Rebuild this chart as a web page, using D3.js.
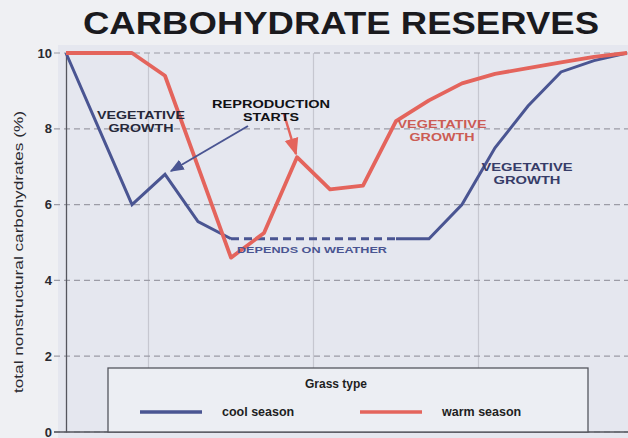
<!DOCTYPE html>
<html>
<head>
<style>
  body { margin: 0; background: #eeeff3; }
  text { font-family: "Liberation Sans", Arial, sans-serif; }
</style>
</head>
<body>
<script src="https://d3js.org/d3.v7.min.js"></script>
<script>

const width = 628;
const height = 438;

// x positions are just sample steps along the season (no labels in the picture)
const steps = d3.range(18);
const coolSeason = [10, 8.0, 6.0, 6.8, 5.55, 5.1, 5.1, 5.1, 5.1, 5.1, 5.1, 5.1, 6.0, 7.5, 8.6, 9.5, 9.8, 10];
const warmSeason = [10, 10, 10, 9.4, 7.0, 4.6, 5.25, 7.25, 6.4, 6.5, 8.2, 8.75, 9.2, 9.45, 9.6, 9.75, 9.9, 10];
// cool season is dashed between these steps
const dashedFrom = 5, dashedTo = 10;
const yTicks = [0, 2, 4, 6, 8, 10];
const xGrid = [2.5, 7.5, 12.5, 17.5];

const svg = d3.select('body')
              .append('svg')
              .attr('width', width)
              .attr('height', height);

svg.append('rect').attr('width', width).attr('height', height).attr('fill', '#eff0f3');

const x = d3.scaleLinear().domain([0, 17]).range([66, 627]);
const y = d3.scaleLinear().domain([0, 10]).range([432, 53]);

// plot background
svg.append('rect')
  .attr('x', 58).attr('y', 45)
  .attr('width', width - 58).attr('height', 400)
  .attr('fill', '#e5e7ef');

// vertical grid
svg.append('g')
  .selectAll('line')
  .data(xGrid)
  .enter()
  .append('line')
    .attr('x1', d => x(d)).attr('x2', d => x(d))
    .attr('y1', y(10)).attr('y2', y(0))
    .attr('stroke', '#c6c7d0')
    .attr('stroke-width', 1.2);

// horizontal dashed grid
svg.append('g')
  .selectAll('line')
  .data(yTicks)
  .enter()
  .append('line')
    .attr('x1', 54).attr('x2', width)
    .attr('y1', d => y(d)).attr('y2', d => y(d))
    .attr('stroke', '#9c9ca6')
    .attr('stroke-width', 1.2)
    .attr('stroke-dasharray', '6,4');

// y axis
const yAxis = svg.append('g')
  .attr('transform', `translate(${x(0)},0)`)
  .call(d3.axisLeft(y).tickValues(yTicks).tickSize(0).tickPadding(14).tickFormat(d3.format('d')));
yAxis.select('.domain').attr('stroke', '#55565e').attr('stroke-width', 1.3);
yAxis.selectAll('text')
  .attr('font-size', 13)
  .attr('font-weight', 'bold')
  .attr('fill', '#2a2a30');

svg.append('text')
  .attr('transform', 'translate(23,252) rotate(-90)')
  .attr('text-anchor', 'middle')
  .attr('font-size', 12)
  .attr('fill', '#2a2a30')
  .attr('textLength', 282)
  .attr('lengthAdjust', 'spacingAndGlyphs')
  .text('total nonstructural carbohydrates (%)');

// title
svg.append('text')
  .attr('x', 341).attr('y', 34)
  .attr('text-anchor', 'middle')
  .attr('font-size', 32)
  .attr('font-weight', 'bold')
  .attr('fill', '#1a1a1e')
  .attr('textLength', 516)
  .attr('lengthAdjust', 'spacingAndGlyphs')
  .text('CARBOHYDRATE RESERVES');

const line = d3.line()
  .x(d => x(d[0]))
  .y(d => y(d[1]));

const coolPts = steps.map(i => [i, coolSeason[i]]);
const warmPts = steps.map(i => [i, warmSeason[i]]);

const blue = '#4a5592';
const red = '#e4645c';

// cool season: solid, dashed, solid
svg.append('path')
  .attr('d', line(coolPts.slice(0, dashedFrom + 1)))
  .attr('fill', 'none').attr('stroke', blue).attr('stroke-width', 3);
svg.append('path')
  .attr('d', line(coolPts.slice(dashedFrom, dashedTo + 1)))
  .attr('fill', 'none').attr('stroke', blue).attr('stroke-width', 3)
  .attr('stroke-dasharray', '8,5');
svg.append('path')
  .attr('d', line(coolPts.slice(dashedTo)))
  .attr('fill', 'none').attr('stroke', blue).attr('stroke-width', 3);

svg.append('path')
  .attr('d', line(warmPts))
  .attr('fill', 'none').attr('stroke', red).attr('stroke-width', 3.8)
  .attr('stroke-linejoin', 'round');

// arrows
const defs = svg.append('defs');
[['arrBlue', blue], ['arrRed', red]].forEach(([id, c]) => {
  defs.append('marker')
    .attr('id', id)
    .attr('viewBox', '0 0 10 10')
    .attr('refX', 9).attr('refY', 5)
    .attr('markerWidth', 7).attr('markerHeight', 7)
    .attr('orient', 'auto')
    .append('path')
      .attr('d', 'M0,1 L10,5 L0,9 Z')
      .attr('fill', c);
});

svg.append('line')
  .attr('x1', 248).attr('y1', 126)
  .attr('x2', 171).attr('y2', 171)
  .attr('stroke', blue).attr('stroke-width', 2)
  .attr('marker-end', 'url(#arrBlue)');

svg.append('line')
  .attr('x1', 284).attr('y1', 114)
  .attr('x2', 296).attr('y2', 154)
  .attr('stroke', red).attr('stroke-width', 2.5)
  .attr('marker-end', 'url(#arrRed)');

// annotations
function label(lines, cx, cy, color, len) {
  lines.forEach((t, i) => {
    svg.append('text')
      .attr('x', cx).attr('y', cy + i * 13)
      .attr('text-anchor', 'middle')
      .attr('font-size', 11)
      .attr('font-weight', 'bold')
      .attr('fill', color)
      .attr('textLength', len[i])
      .attr('lengthAdjust', 'spacingAndGlyphs')
      .text(t);
  });
}

label(['VEGETATIVE', 'GROWTH'], 141, 119, '#26283a', [88, 65]);
label(['REPRODUCTION', 'STARTS'], 271, 108, '#111114', [118, 56]);
label(['VEGETATIVE', 'GROWTH'], 442, 128, '#cc5c54', [89, 65]);
label(['VEGETATIVE', 'GROWTH'], 527, 171, '#363c68', [91, 67]);

svg.append('text')
  .attr('x', 237).attr('y', 253)
  .attr('font-size', 9)
  .attr('font-weight', 'bold')
  .attr('fill', '#4a5592')
  .attr('textLength', 150)
  .attr('lengthAdjust', 'spacingAndGlyphs')
  .text('DEPENDS ON WEATHER');

// x axis baseline
svg.append('line')
  .attr('x1', 54).attr('x2', width)
  .attr('y1', y(0)).attr('y2', y(0))
  .attr('stroke', '#55565e').attr('stroke-width', 1.3);

// legend
const legendItems = [
  { name: 'cool season', color: blue, x: 140 },
  { name: 'warm season', color: red, x: 360 }
];

const legend = svg.append('g');
legend.append('rect')
  .attr('x', 108).attr('y', 368)
  .attr('width', 480).attr('height', 64)
  .attr('fill', '#eceef3')
  .attr('stroke', '#55565e')
  .attr('stroke-width', 1.3);

legend.append('text')
  .attr('x', 336).attr('y', 388)
  .attr('text-anchor', 'middle')
  .attr('font-size', 12)
  .attr('font-weight', 'bold')
  .attr('fill', '#1e1e22')
  .text('Grass type');

legend.selectAll('g.item')
  .data(legendItems)
  .enter()
  .append('g')
    .attr('class', 'item')
    .each(function (d) {
      const g = d3.select(this);
      g.append('line')
        .attr('x1', d.x).attr('x2', d.x + 62)
        .attr('y1', 412).attr('y2', 412)
        .attr('stroke', d.color).attr('stroke-width', 3.5);
      g.append('text')
        .attr('x', d.x + 82).attr('y', 416)
        .attr('font-size', 12.5)
        .attr('font-weight', 'bold')
        .attr('fill', '#1e1e22')
        .text(d.name);
    });

</script>
</body>
</html>
